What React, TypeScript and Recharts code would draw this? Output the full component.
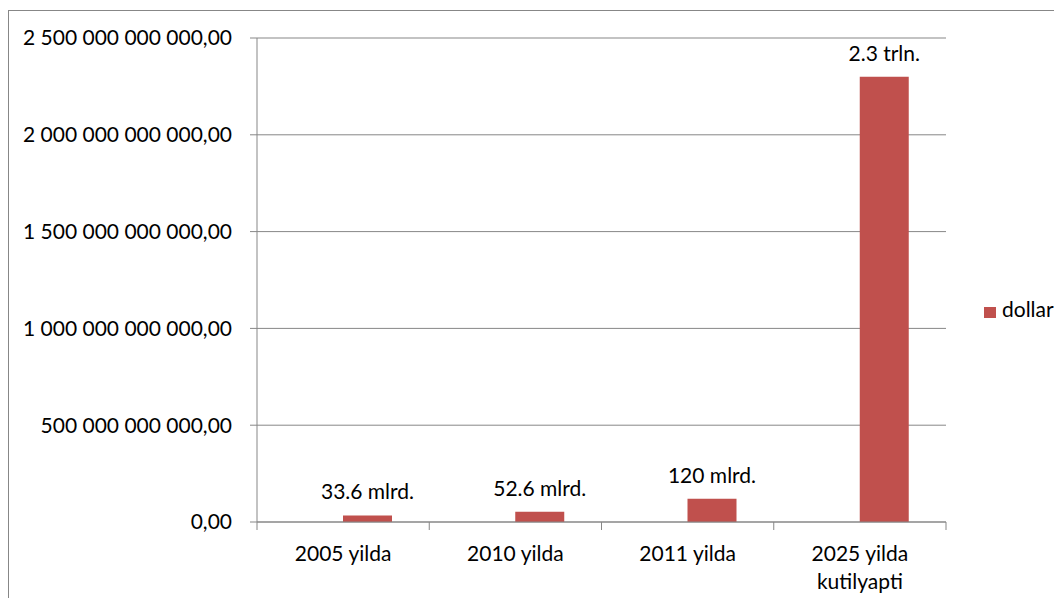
import { BarChart, Bar, XAxis, YAxis, CartesianGrid, Legend, LabelList } from 'recharts'

// categories and values
const categories = ['2005 yilda', '2010 yilda', '2011 yilda', '2025 yilda\nkutilyapti']
const dollarValues = [33.6e9, 52.6e9, 120e9, 2.3e12]
const padValues = [0, 0, 0, 0] // empty series that pushes the bars right of centre
const valueLabels = ['33.6 mlrd.', '52.6 mlrd.', '120 mlrd.', '2.3 trln.']
const yTicks = [0, 5e11, 1e12, 1.5e12, 2e12, 2.5e12]

const data = categories.map((name, i) => ({
  name,
  pad: padValues[i],
  dollar: dollarValues[i],
  label: valueLabels[i],
}))

const CHART_W = 1046
const CHART_H = 590
const MARGIN = { top: 30, right: 108, bottom: 0, left: 0 }
const Y_AXIS_W = 249
const X_AXIS_H = 76
const X_TICK_SIZE = 8
const X_TICK_MARGIN = 16
const BAND = (CHART_W - MARGIN.left - MARGIN.right - Y_AXIS_W) / categories.length
const AXIS_COLOR = '#878787'
const BAR_COLOR = '#C0504D'
const FONT = 'Lato, "Open Sans", sans-serif'
const FONT_SIZE = 21

const formatAmount = (v: number) =>
  v.toFixed(0).replace(/\B(?=(\d{3})+(?!\d))/g, ' ') + ',00'

function CategoryTick(props: any) {
  const { x, y, payload, index } = props
  const lines = String(payload.value).split('\n')
  const axisY = y - X_TICK_SIZE - X_TICK_MARGIN
  return (
    <g>
      <line x1={x - BAND / 2} x2={x - BAND / 2} y1={axisY} y2={axisY + X_TICK_SIZE} stroke={AXIS_COLOR} />
      {index === categories.length - 1 && (
        <line x1={x + BAND / 2} x2={x + BAND / 2} y1={axisY} y2={axisY + X_TICK_SIZE} stroke={AXIS_COLOR} />
      )}
      <text x={x} y={y} textAnchor="middle" fontSize={FONT_SIZE} fill="#000">
        {lines.map((line, i) => (
          <tspan key={i} x={x} dy={i === 0 ? 14.5 : 28}>
            {line}
          </tspan>
        ))}
      </text>
    </g>
  )
}

function ValueLabel(props: any) {
  const { x, y, width, value } = props
  return (
    <text x={x + width / 2} y={y - 16} textAnchor="middle" fontSize={FONT_SIZE} fill="#000">
      {value}
    </text>
  )
}

function LegendContent() {
  return (
    <div style={{ display: 'flex', alignItems: 'flex-start', fontSize: FONT_SIZE, lineHeight: '24px', color: '#000', fontFamily: FONT }}>
      <span style={{ display: 'inline-block', width: 12, height: 11, marginTop: 10, marginRight: 6, background: BAR_COLOR }} />
      <span>dollar</span>
    </div>
  )
}

export default function App() {
  return (
    <div style={{ position: 'relative', width: CHART_W, height: CHART_H, overflow: 'hidden', fontFamily: FONT }}>
      <div
        style={{
          position: 'absolute',
          left: 0,
          top: 2,
          width: CHART_W + 100,
          height: CHART_H + 100,
          border: `1px solid ${AXIS_COLOR}`,
        }}
      />
      <div style={{ position: 'absolute', left: 0, top: 0 }}>
        <BarChart width={CHART_W} height={CHART_H} data={data} margin={MARGIN} barGap={0} barSize={49}>
          <CartesianGrid horizontal vertical={false} stroke={AXIS_COLOR} strokeWidth={1} />
          <XAxis
            dataKey="name"
            height={X_AXIS_H}
            axisLine={{ stroke: AXIS_COLOR }}
            tickLine={false}
            tickSize={X_TICK_SIZE}
            tickMargin={X_TICK_MARGIN}
            tick={<CategoryTick />}
            interval={0}
          />
          <YAxis
            width={Y_AXIS_W}
            domain={[0, 2.5e12]}
            ticks={yTicks}
            tickFormatter={formatAmount}
            axisLine={{ stroke: AXIS_COLOR }}
            tickLine={{ stroke: AXIS_COLOR }}
            tickSize={7}
            tickMargin={18}
            tick={{ fontSize: FONT_SIZE, fill: '#000' }}
          />
          <Legend
            layout="horizontal"
            verticalAlign="middle"
            align="center"
            content={<LegendContent />}
            wrapperStyle={{ left: 976, top: 289, width: 80 }}
          />
          <Bar dataKey="pad" fill="none" legendType="none" isAnimationActive={false} />
          <Bar dataKey="dollar" name="dollar" fill={BAR_COLOR} isAnimationActive={false}>
            <LabelList dataKey="label" content={<ValueLabel />} />
          </Bar>
        </BarChart>
      </div>
    </div>
  )
}
